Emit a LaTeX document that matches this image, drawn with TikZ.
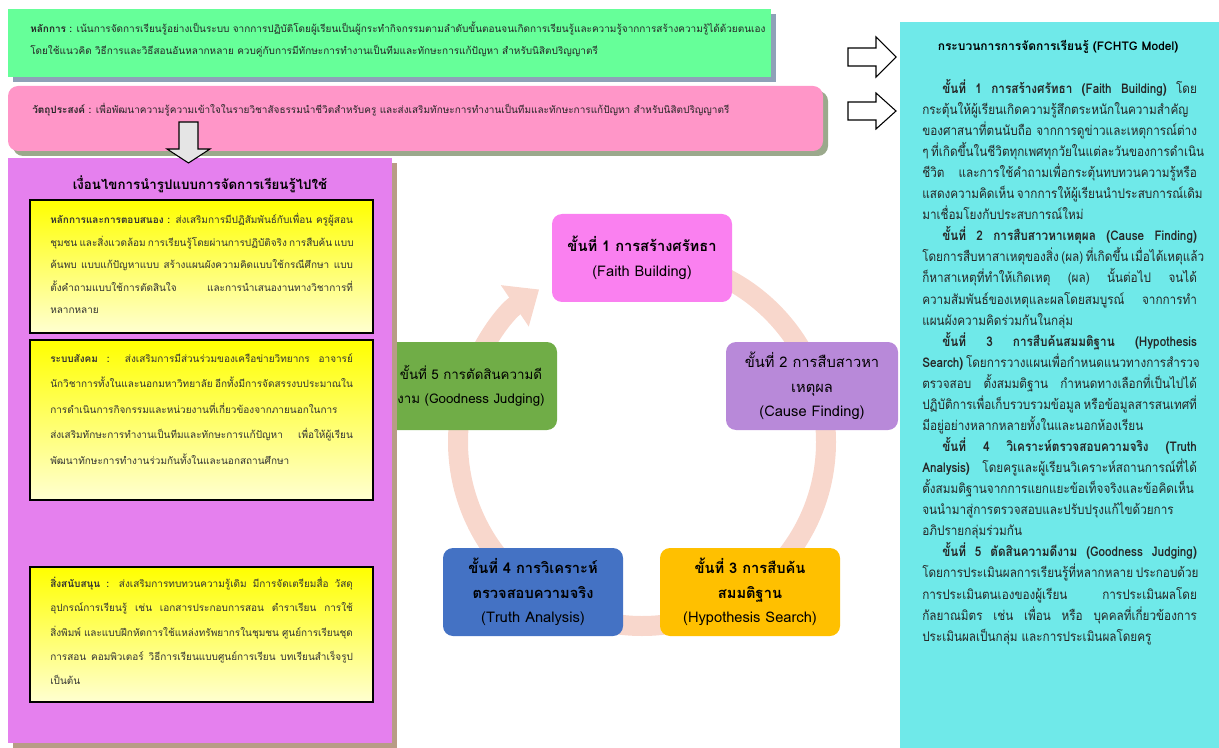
\documentclass[tikz,border=0pt]{standalone}
\usepackage{fontspec}
\setmainfont[Script=Thai]{Loma}
\newfontfamily\procfont[Script=Thai, FakeStretch=0.88]{Loma}
\usetikzlibrary{arrows.meta}
\hbadness=10000
\newcommand\jl[2][227pt]{\makebox[#1][s]{#2}}
\definecolor{greenbox}{HTML}{66FF99}
\definecolor{greenshade}{HTML}{8FA1B8}
\definecolor{pinkbox}{HTML}{FF96C8}
\definecolor{pinkshade}{HTML}{9BA98C}
\definecolor{condbg}{HTML}{E580EE}
\definecolor{condshade}{HTML}{B89C86}
\definecolor{procbg}{HTML}{6FE9E9}
\definecolor{ringcol}{HTML}{F8D7CC}
\definecolor{stepA}{HTML}{FA80F0}
\definecolor{stepB}{HTML}{B889D9}
\definecolor{stepC}{HTML}{FFC000}
\definecolor{stepD}{HTML}{4472C4}
\definecolor{stepE}{HTML}{70AD47}
\tikzset{
	stepbox/.style={rounded corners=7.5pt, minimum width=135pt, minimum height=66pt, align=center, inner sep=2pt, font=\fontsize{11}{18.4}\selectfont},
	ybox/.style={draw=black, line width=1.5pt, top color=yellow, bottom color=yellow!18},
	ytext/.style={anchor=north west, inner sep=0pt, align=left, text=black!80},
	blockarr/.style={draw=black, line width=0.8pt, fill=white},
	ring/.style={draw=ringcol, line width=15pt}
}

\begin{document}
\begin{tikzpicture}[x=0.75pt, y=-0.75pt]
	\useasboundingbox (0,0) rectangle (1219,748);
	\fill[greenshade] (13,14) rectangle (776,82);
	\fill[greenbox] (8,9) rectangle (771,77);
	\node[anchor=north west, inner sep=0pt, align=left, font=\fontsize{7.5}{16.5}\selectfont, text=black!85] (principle) at (30,22)
		{\textbf{หลักการ :} เน้นการจัดการเรียนรู้อย่างเป็นระบบ จากการปฏิบัติโดยผู้เรียนเป็นผู้กระทำกิจกรรมตามลำดับขั้นตอนจนเกิดการเรียนรู้และความรู้จากการสร้างความรู้ได้ด้วยตนเอง\\
		โดยใช้แนวคิด วิธีการและวิธีสอนอันหลากหลาย ควบคู่กับการมีทักษะการทำงานเป็นทีมและทักษะการแก้ปัญหา สำหรับนิสิตปริญญาตรี};
	\fill[pinkshade, rounded corners=7.5pt] (13,91) rectangle (828,156);
	\fill[pinkbox, rounded corners=7.5pt] (8,86) rectangle (823,151);
	\node[anchor=west, inner sep=0pt, font=\fontsize{7.5}{16.5}\selectfont, text=black!85] (objective) at (32,110)
		{\textbf{วัตถุประสงค์ :} เพื่อพัฒนาความรู้ความเข้าใจในรายวิชาสัจธรรมนำชีวิตสำหรับครู และส่งเสริมทักษะการทำงานเป็นทีมและทักษะการแก้ปัญหา สำหรับนิสิตปริญญาตรี};

	\coordinate (cyc) at (642,442);
	\draw[ring] (cyc) ++(-90:184) arc[start angle=-90, end angle=198, radius=184];
	\draw[ring, -{Triangle[width=36pt, length=22pt]}] (cyc) ++(197:184) arc[start angle=197, end angle=236, radius=184];
	\node[stepbox, fill=stepA] (s1) at (642,258) {\textbf{ขั้นที่ 1 การสร้างศรัทธา}\\(Faith Building)};
	\node[stepbox, fill=stepB, minimum width=129pt] (s2) at (812,386) {ขั้นที่ 2 การสืบสาวหา\\เหตุผล\\(Cause Finding)};
	\node[stepbox, fill=stepC] (s3) at (750,592) {\textbf{ขั้นที่ 3 การสืบค้น}\\\textbf{สมมติฐาน}\\(Hypothesis Search)};
	\node[stepbox, fill=stepD] (s4) at (533,592) {\textbf{ขั้นที่ 4 การวิเคราะห์}\\\textbf{ตรวจสอบความจริง}\\(Truth Analysis)};
	\node[stepbox, fill=stepE, minimum width=129pt, font=\fontsize{10}{18.4}\selectfont] (s5) at (471,386) {ขั้นที่ 5 การตัดสินความดี\\งาม (Goodness Judging)};

	\fill[condshade] (13,163) rectangle (397,748);
	\fill[condbg] (8,158) rectangle (392,743);
	\node[font=\bfseries\fontsize{10}{12}\selectfont] (condtitle) at (200,184) {เงื่อนไขการนำรูปแบบการจัดการเรียนรู้ไปใช้};
	\draw[ybox] (30,200) rectangle (373,333);
	\node[ytext, font=\fontsize{7.5}{16.9}\selectfont] (respond) at (50,213)
		{\jl{\textbf{หลักการและการตอบสนอง :} ส่งเสริมการมีปฏิสัมพันธ์กับเพื่อน ครูผู้สอน}\\
		\jl{ชุมชน และสิ่งแวดล้อม การเรียนรู้โดยผ่านการปฏิบัติจริง การสืบค้น แบบ}\\
		\jl{ค้นพบ แบบแก้ปัญหาแบบ สร้างแผนผังความคิดแบบใช้กรณีศึกษา แบบ}\\
		\jl{ตั้งคำถามแบบใช้การตัดสินใจ และการนำเสนองานทางวิชาการที่}\\
		หลากหลาย};
	\draw[ybox] (30,340) rectangle (373,500);
	\node[ytext, font=\fontsize{7.5}{19.2}\selectfont] (social) at (50,353)
		{\jl{\textbf{ระบบสังคม :} ส่งเสริมการมีส่วนร่วมของเครือข่ายวิทยากร อาจารย์}\\
		\jl{นักวิชาการทั้งในและนอกมหาวิทยาลัย อีกทั้งมีการจัดสรรงบประมาณใน}\\
		\jl{การดำเนินการกิจกรรมและหน่วยงานที่เกี่ยวข้องจากภายนอกในการ}\\
		\jl{ส่งเสริมทักษะการทำงานเป็นทีมและทักษะการแก้ปัญหา เพื่อให้ผู้เรียน}\\
		พัฒนาทักษะการทำงานร่วมกันทั้งในและนอกสถานศึกษา};
	\draw[ybox] (30,567) rectangle (373,702);
	\node[ytext, font=\fontsize{7.5}{18.2}\selectfont] (support) at (50,577)
		{\jl{\textbf{สิ่งสนับสนุน :} ส่งเสริมการทบทวนความรู้เดิม มีการจัดเตรียมสื่อ วัสดุ}\\
		\jl{อุปกรณ์การเรียนรู้ เช่น เอกสารประกอบการสอน ตำราเรียน การใช้}\\
		\jl{สิ่งพิมพ์ และแบบฝึกหัดการใช้แหล่งทรัพยากรในชุมชน ศูนย์การเรียนชุด}\\
		\jl{การสอน คอมพิวเตอร์ วิธีการเรียนแบบศูนย์การเรียน บทเรียนสำเร็จรูป}\\
		เป็นต้น};
	\filldraw[blockarr, fill=gray!20] (179,122) -- (198,122) -- (198,149) -- (210,149) -- (188.5,163) -- (167,149) -- (179,149) -- cycle;

	\fill[procbg] (900,22) rectangle (1219,748);
	\foreach \yc/\h in {57/20, 111/18}
		\filldraw[blockarr] (848,\yc-9) -- (876,\yc-9) -- (876,\yc-\h) -- (896,\yc) -- (876,\yc+\h) -- (876,\yc+9) -- (848,\yc+9) -- cycle;
	\node[font=\bfseries\fontsize{9}{11}\selectfont] (proctitle) at (1058,47) {กระบวนการการจัดการเรียนรู้ (FCHTG Model)};
	\node[anchor=north west, inner sep=0pt, align=left, font=\procfont\fontsize{10}{15.8}\selectfont, text=black!85] (steps) at (922,79)
		{\jl[206pt]{\hspace*{15pt}\textbf{ขั้นที่ 1 การสร้างศรัทธา (Faith Building)} โดย}\\
		\jl[206pt]{กระตุ้นให้ผู้เรียนเกิดความรู้สึกตระหนักในความสำคัญ}\\
		\jl[206pt]{ของศาสนาที่ตนนับถือ จากการดูข่าวและเหตุการณ์ต่าง}\\
		\jl[206pt]{ๆ ที่เกิดขึ้นในชีวิตทุกเพศทุกวัยในแต่ละวันของการดำเนิน}\\
		\jl[206pt]{ชีวิต และการใช้คำถามเพื่อกระตุ้นทบทวนความรู้หรือ}\\
		\jl[206pt]{แสดงความคิดเห็น จากการให้ผู้เรียนนำประสบการณ์เดิม}\\
		มาเชื่อมโยงกับประสบการณ์ใหม่\\
		\jl[206pt]{\hspace*{15pt}\textbf{ขั้นที่ 2 การสืบสาวหาเหตุผล (Cause Finding)}}\\
		\jl[206pt]{โดยการสืบหาสาเหตุของสิ่ง (ผล) ที่เกิดขึ้น เมื่อได้เหตุแล้ว}\\
		\jl[206pt]{ก็หาสาเหตุที่ทำให้เกิดเหตุ (ผล) นั้นต่อไป จนได้}\\
		\jl[206pt]{ความสัมพันธ์ของเหตุและผลโดยสมบูรณ์ จากการทำ}\\
		แผนผังความคิดร่วมกันในกลุ่ม\\
		\jl[206pt]{\hspace*{15pt}\textbf{ขั้นที่ 3 การสืบค้นสมมติฐาน (Hypothesis}}\\
		\jl[206pt]{\textbf{Search)} โดยการวางแผนเพื่อกำหนดแนวทางการสำรวจ}\\
		\jl[206pt]{ตรวจสอบ ตั้งสมมติฐาน กำหนดทางเลือกที่เป็นไปได้}\\
		\jl[206pt]{ปฏิบัติการเพื่อเก็บรวบรวมข้อมูล หรือข้อมูลสารสนเทศที่}\\
		มีอยู่อย่างหลากหลายทั้งในและนอกห้องเรียน\\
		\jl[206pt]{\hspace*{15pt}\textbf{ขั้นที่ 4 วิเคราะห์ตรวจสอบความจริง (Truth}}\\
		\jl[206pt]{\textbf{Analysis)} โดยครูและผู้เรียนวิเคราะห์สถานการณ์ที่ได้}\\
		\jl[206pt]{ตั้งสมมติฐานจากการแยกแยะข้อเท็จจริงและข้อคิดเห็น}\\
		\jl[206pt]{จนนำมาสู่การตรวจสอบและปรับปรุงแก้ไขด้วยการ}\\
		อภิปรายกลุ่มร่วมกัน\\
		\jl[206pt]{\hspace*{15pt}\textbf{ขั้นที่ 5 ตัดสินความดีงาม (Goodness Judging)}}\\
		\jl[206pt]{โดยการประเมินผลการเรียนรู้ที่หลากหลาย ประกอบด้วย}\\
		\jl[206pt]{การประเมินตนเองของผู้เรียน การประเมินผลโดย}\\
		\jl[206pt]{กัลยาณมิตร เช่น เพื่อน หรือ บุคคลที่เกี่ยวข้องการ}\\
		ประเมินผลเป็นกลุ่ม และการประเมินผลโดยครู};
\end{tikzpicture}
\end{document}
